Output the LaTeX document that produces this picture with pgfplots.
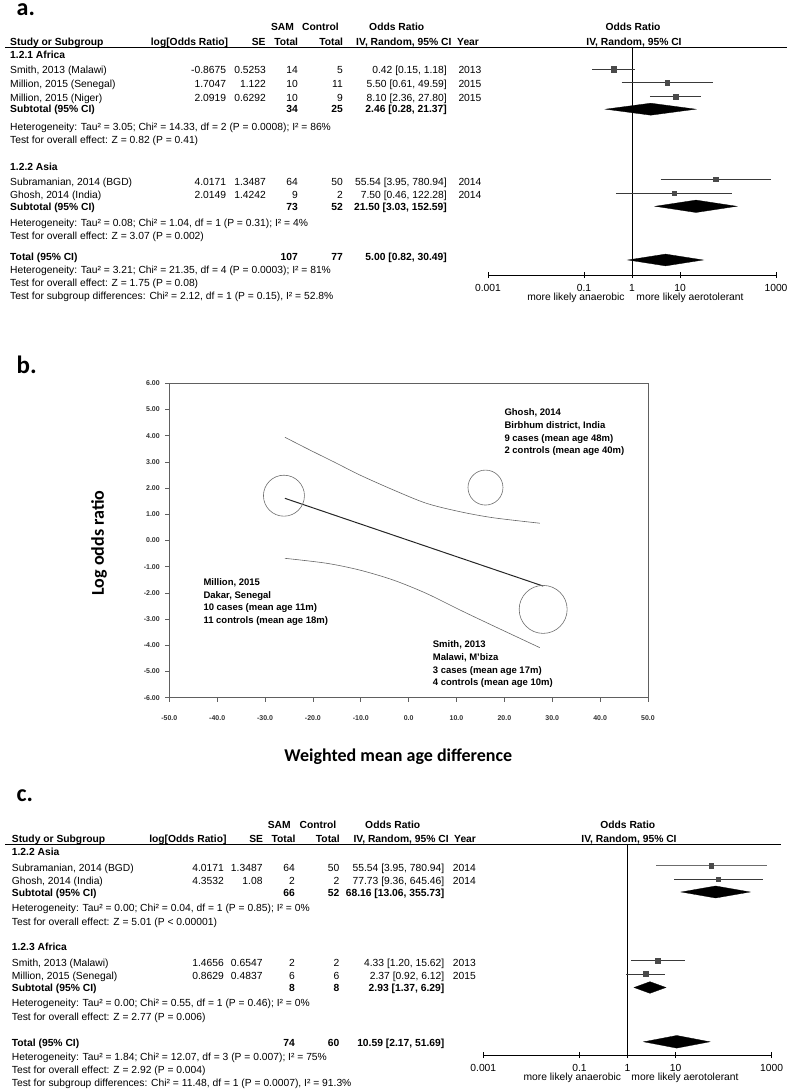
\documentclass[border=0pt]{standalone}
\usepackage{fontspec}
\setmainfont{Liberation Sans}
\newfontfamily\carlito{Carlito}
\usepackage{pgfplots}
\pgfplotsset{compat=1.18}
\newcommand{\fs}{\fontsize{10.3}{12}\selectfont}
\newcommand{\tw}[3]{\node[anchor=base west] at (#1,#2) {#3};}
\newcommand{\te}[3]{\node[anchor=base east] at (#1,#2) {#3};}
\newcommand{\tc}[3]{\node[anchor=base] at (#1,#2) {#3};}
% row: y, name, logOR, SE, n1, n2, OR, year
\newcommand{\frow}[8]{\tw{\cS}{#1}{#2}\te{\cL}{#1}{#3}\te{\cSE}{#1}{#4}\te{\cN}{#1}{#5}\te{\cC}{#1}{#6}\te{\cOR}{#1}{#7}\tw{\cY}{#1}{#8}}
\newcommand{\srow}[5]{\tw{\cS}{#1}{\bfseries #2}\te{\cN}{#1}{\bfseries #3}\te{\cC}{#1}{\bfseries #4}\te{\cOR}{#1}{\bfseries #5}}
\definecolor{sq}{HTML}{4A4A4A}
\definecolor{ci}{HTML}{3A3A3A}
\tikzset{
  cil/.style={draw=ci, line width=0.8pt},
  sqm/.style={only marks, mark=square*, mark options={fill=sq, draw=sq}},
  dia/.style={fill=black, draw=black, line width=0.3pt}
}
\begin{document}
\begin{tikzpicture}
\useasboundingbox (0,0) rectangle (787pt,1090pt);
% ---------------- panel a forest
\begin{axis}[xmode=log, log basis x=10, at={(488pt,815pt)}, anchor=south west, scale only axis,
    width=288pt, height=227.7pt, ymin=-275, ymax=-47.3,
    xmin=0.001, xmax=1000, axis x line*=bottom, axis y line=none,
    x axis line style={-, line width=0.8pt},
    xtick={0.001,0.1,1,10,1000}, xticklabels={0.001,0.1,1,10,1000},
    minor xtick={}, ytick=\empty, tick align=center, major tick length=6pt,
    tick style={line width=0.8pt, black},
    xticklabel style={font=\fs, anchor=base, yshift=-14pt},
    clip=false]
\addplot[black, line width=0.8pt] coordinates {(1,-47.3) (1,-275)};
\addplot[cil] coordinates {(0.15,-69.3) (1.18,-69.3)};
\addplot[cil] coordinates {(0.61,-82.8) (49.59,-82.8)};
\addplot[cil] coordinates {(2.36,-96.8) (27.80,-96.8)};
\addplot[cil] coordinates {(3.95,-179.3) (780.94,-179.3)};
\addplot[cil] coordinates {(0.46,-193) (122.28,-193)};
\addplot[sqm, mark size=2.6pt] coordinates {(0.42,-69.3) (8.10,-96.8)};
\addplot[sqm, mark size=2.1pt] coordinates {(5.50,-82.8) (55.54,-179.3) (7.50,-193)};
\addplot[dia] coordinates {(0.28,-109.2) (2.46,-103.2) (21.37,-109.2) (2.46,-115.2)} -- cycle;
\addplot[dia] coordinates {(3.03,-206.3) (21.50,-200.1) (152.59,-206.3) (21.50,-212.5)} -- cycle;
\addplot[dia] coordinates {(0.82,-260) (5.00,-254.1) (30.49,-260) (5.00,-265.9)} -- cycle;
\end{axis}
% ---------------- panel c forest
\begin{axis}[xmode=log, log basis x=10, at={(483.3pt,35pt)}, anchor=south west, scale only axis,
    width=288.4pt, height=210.7pt, ymin=-1055, ymax=-844.3,
    xmin=0.001, xmax=1000, axis x line*=bottom, axis y line=none,
    x axis line style={-, line width=0.8pt},
    xtick={0.001,0.1,1,10,1000}, xticklabels={0.001,0.1,1,10,1000},
    minor xtick={}, ytick=\empty, tick align=center, major tick length=6pt,
    tick style={line width=0.8pt, black},
    xticklabel style={font=\fs, anchor=base, yshift=-13.5pt},
    clip=false]
\addplot[black, line width=0.8pt] coordinates {(1,-844.3) (1,-1055)};
\addplot[cil, draw=gray!85!black] coordinates {(3.95,-865.7) (780.94,-865.7)};
\addplot[cil] coordinates {(9.36,-879) (645.46,-879)};
\addplot[cil] coordinates {(1.20,-960.7) (15.62,-960.7)};
\addplot[cil] coordinates {(0.92,-974) (6.12,-974)};
\addplot[sqm, mark size=2.1pt] coordinates {(55.54,-865.7) (77.73,-879)};
\addplot[sqm, mark size=2.6pt] coordinates {(4.33,-960.7) (2.37,-974)};
\addplot[dia] coordinates {(13.06,-892) (68.16,-886) (355.73,-892) (68.16,-898)} -- cycle;
\addplot[dia] coordinates {(1.37,-987.5) (2.93,-981.7) (6.29,-987.5) (2.93,-993.3)} -- cycle;
\addplot[dia] coordinates {(2.17,-1041.8) (10.59,-1035.5) (51.69,-1041.8) (10.59,-1048.1)} -- cycle;
\end{axis}
% ---------------- panel b bubble plot
\begin{axis}[at={(169.3pt,392.3pt)}, anchor=south west, scale only axis,
  width=478.7pt, height=314.4pt, xmin=-50, xmax=50, ymin=-6, ymax=6,
  xtick={-50,-40,...,50}, ytick={-6,-5,...,6},
  axis line style={gray!75!black, line width=0.6pt},
  tick style={gray!75!black, line width=0.6pt},
  tick align=outside, xtick pos=bottom, ytick pos=left, major tick length=4pt,
  xticklabel={\pgfmathprintnumber[fixed,fixed zerofill,precision=1,assume math mode=true]{\tick}},
  yticklabel={\pgfmathprintnumber[fixed,fixed zerofill,precision=2,assume math mode=true]{\tick}},
  xticklabel style={font=\bfseries\fontsize{7}{8}\selectfont, text=black!80, yshift=-10pt},
  yticklabel style={font=\bfseries\fontsize{7}{8}\selectfont, text=black!80, xshift=-2pt},
  clip=false]
\addplot[gray!80!black, line width=0.6pt, smooth] coordinates {(-25.85,3.94) (-20.6,3.45) (-15.4,2.98) (-10.2,2.50) (-3.2,1.93) (3.7,1.42) (10.7,1.10) (17.6,0.87) (27.4,0.66)};
\addplot[gray!80!black, line width=0.6pt, smooth] coordinates {(-25.85,-0.68) (-17.1,-0.87) (-10.2,-1.13) (-3.2,-1.51) (3.7,-2.02) (10.7,-2.65) (17.6,-3.25) (27.4,-4.09)};
\addplot[black!85, line width=1pt] coordinates {(-25.85,1.61) (28.1,-1.74)};
\addplot[only marks, mark=o, mark size=20.5pt, mark options={draw=gray!85!black, line width=0.6pt}] coordinates {(-26.05,1.71)};
\addplot[only marks, mark=o, mark size=17.5pt, mark options={draw=gray!85!black, line width=0.6pt}] coordinates {(16.05,2.02)};
\addplot[only marks, mark=o, mark size=24pt, mark options={draw=gray!85!black, line width=0.6pt}] coordinates {(28.1,-2.63)};
\end{axis}
% ---------------- texts
\begin{scope}[shift={(0pt,1090pt)}, x=1pt, y=-1pt, every node/.style={inner sep=0pt, font=\fs}]
\node[anchor=base west, font=\carlito\bfseries\fontsize{24}{28}\selectfont] at (16.5,16) {a.};
\node[anchor=base west, font=\carlito\bfseries\fontsize{25}{30}\selectfont] at (16.5,373.3) {b.};
\node[anchor=base west, font=\carlito\bfseries\fontsize{24}{28}\selectfont] at (16.5,801.7) {c.};
% ===== panel a
\draw[line width=1.1pt] (5,47.3) -- (786.5,47.3);
\tc{282.5}{30.5}{\bfseries SAM}\tc{320.5}{30.5}{\bfseries Control}\tc{396.7}{30.5}{\bfseries Odds Ratio}\tc{633}{30.5}{\bfseries Odds Ratio}
\tw{10}{45.2}{\bfseries Study or Subgroup}\te{228.3}{45.2}{\bfseries log[Odds Ratio]}\te{265.7}{45.2}{\bfseries SE}
\te{298.3}{45.2}{\bfseries Total}\te{343.3}{45.2}{\bfseries Total}\tw{356}{45.2}{\bfseries IV, Random, 95\% CI}
\tw{457}{45.2}{\bfseries Year}\tc{634}{45.2}{\bfseries IV, Random, 95\% CI}
\def\cS{10}\def\cL{226.3}\def\cSE{266}\def\cN{298}\def\cC{343}\def\cOR{447}\def\cY{458.3}
\tw{10}{58.5}{\bfseries 1.2.1 Africa}
\frow{73.5}{Smith, 2013 (Malawi)}{-0.8675}{0.5253}{14}{5}{0.42 [0.15, 1.18]}{2013}
\frow{87.3}{Million, 2015 (Senegal)}{1.7047}{1.122}{10}{11}{5.50 [0.61, 49.59]}{2015}
\frow{101.3}{Million, 2015 (Niger)}{2.0919}{0.6292}{10}{9}{8.10 [2.36, 27.80]}{2015}
\srow{112.5}{Subtotal (95\% CI)}{34}{25}{2.46 [0.28, 21.37]}
\tw{10}{130.2}{Heterogeneity: Tau² = 3.05; Chi² = 14.33, df = 2 (P = 0.0008); I² = 86\%}
\tw{10}{143.5}{Test for overall effect: Z = 0.82 (P = 0.41)}
\tw{10}{170.2}{\bfseries 1.2.2 Asia}
\frow{185.2}{Subramanian, 2014 (BGD)}{4.0171}{1.3487}{64}{50}{55.54 [3.95, 780.94]}{2014}
\frow{198.5}{Ghosh, 2014 (India)}{2.0149}{1.4242}{9}{2}{7.50 [0.46, 122.28]}{2014}
\srow{210.8}{Subtotal (95\% CI)}{73}{52}{21.50 [3.03, 152.59]}
\tw{10}{226.2}{Heterogeneity: Tau² = 0.08; Chi² = 1.04, df = 1 (P = 0.31); I² = 4\%}
\tw{10}{239.5}{Test for overall effect: Z = 3.07 (P = 0.002)}
\srow{261}{Total (95\% CI)}{107}{77}{5.00 [0.82, 30.49]}
\tw{10}{273.3}{Heterogeneity: Tau² = 3.21; Chi² = 21.35, df = 4 (P = 0.0003); I² = 81\%}
\tw{10}{286.8}{Test for overall effect: Z = 1.75 (P = 0.08)}
\tw{10}{299.5}{Test for subgroup differences: Chi² = 2.12, df = 1 (P = 0.15), I² = 52.8\%}
\tc{576}{300.2}{more likely anaerobic}\tc{690}{300.2}{more likely aerotolerant}
% ===== panel b texts
\node[rotate=90, font=\carlito\bfseries\fontsize{18}{22}\selectfont] at (99,543) {Log odds ratio};
\node[font=\carlito\bfseries\fontsize{18}{22}\selectfont] at (398.3,757) {Weighted mean age difference};
\begin{scope}[every node/.style={inner sep=0pt, anchor=base west, font=\bfseries\fontsize{9.5}{11}\selectfont}]
\node at (504.3,415.2) {Ghosh, 2014};
\node at (504.3,428.5) {Birbhum district, India};
\node at (504.3,441.2) {9 cases (mean age 48m)};
\node at (504.3,453.8) {2 controls (mean age 40m)};
\node at (203.3,585.8) {Million, 2015};
\node at (203.3,598.5) {Dakar, Senegal};
\node at (203.3,610.8) {10 cases (mean age 11m)};
\node at (203.3,623.8) {11 controls (mean age 18m)};
\node at (432.7,647.5) {Smith, 2013};
\node at (432.7,660.8) {Malawi, M’biza};
\node at (432.7,673.2) {3 cases (mean age 17m)};
\node at (432.7,685.8) {4 controls (mean age 10m)};
\end{scope}
% ===== panel c
\draw[line width=1.1pt] (5,844.3) -- (780.7,844.3);
\tc{279.2}{828.5}{\bfseries SAM}\tc{318}{828.5}{\bfseries Control}\tc{392.7}{828.5}{\bfseries Odds Ratio}\tc{627.8}{828.5}{\bfseries Odds Ratio}
\tw{11.7}{842.5}{\bfseries Study or Subgroup}\te{226.7}{842.5}{\bfseries log[Odds Ratio]}\te{263.3}{842.5}{\bfseries SE}
\te{295.7}{842.5}{\bfseries Total}\te{340}{842.5}{\bfseries Total}\tw{353.3}{842.5}{\bfseries IV, Random, 95\% CI}
\tw{454}{842.5}{\bfseries Year}\tc{629}{842.5}{\bfseries IV, Random, 95\% CI}
\def\cS{11.7}\def\cL{224}\def\cSE{262.7}\def\cN{295}\def\cC{339.5}\def\cOR{444.5}\def\cY{452.7}
\tw{11.7}{855.2}{\bfseries 1.2.2 Asia}
\frow{871.2}{Subramanian, 2014 (BGD)}{4.0171}{1.3487}{64}{50}{55.54 [3.95, 780.94]}{2014}
\frow{884.2}{Ghosh, 2014 (India)}{4.3532}{1.08}{2}{2}{77.73 [9.36, 645.46]}{2014}
\srow{896.8}{Subtotal (95\% CI)}{66}{52}{68.16 [13.06, 355.73]}
\tw{11.7}{911.8}{Heterogeneity: Tau² = 0.00; Chi² = 0.04, df = 1 (P = 0.85); I² = 0\%}
\tw{11.7}{925.2}{Test for overall effect: Z = 5.01 (P < 0.00001)}
\tw{11.7}{950.8}{\bfseries 1.2.3 Africa}
\frow{966.2}{Smith, 2013 (Malawi)}{1.4656}{0.6547}{2}{2}{4.33 [1.20, 15.62]}{2013}
\frow{979.5}{Million, 2015 (Senegal)}{0.8629}{0.4837}{6}{6}{2.37 [0.92, 6.12]}{2015}
\srow{991.8}{Subtotal (95\% CI)}{8}{8}{2.93 [1.37, 6.29]}
\tw{11.7}{1006.8}{Heterogeneity: Tau² = 0.00; Chi² = 0.55, df = 1 (P = 0.46); I² = 0\%}
\tw{11.7}{1020.2}{Test for overall effect: Z = 2.77 (P = 0.006)}
\srow{1046.8}{Total (95\% CI)}{74}{60}{10.59 [2.17, 51.69]}
\tw{11.7}{1060.2}{Heterogeneity: Tau² = 1.84; Chi² = 12.07, df = 3 (P = 0.007); I² = 75\%}
\tw{11.7}{1073.5}{Test for overall effect: Z = 2.92 (P = 0.004)}
\tw{11.7}{1086.5}{Test for subgroup differences: Chi² = 11.48, df = 1 (P = 0.0007), I² = 91.3\%}
\tc{572.3}{1080.2}{more likely anaerobic}\tc{685}{1080.2}{more likely aerotolerant}
\end{scope}
\end{tikzpicture}
\end{document}
